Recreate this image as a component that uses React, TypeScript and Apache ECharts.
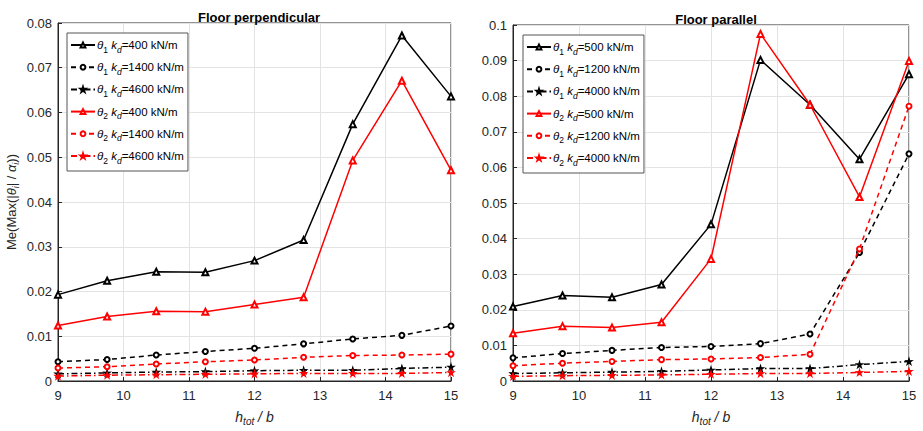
import React, { useEffect, useRef } from "react";
import * as echarts from "echarts";

const xValues = [9, 9.75, 10.5, 11.25, 12, 12.75, 13.5, 14.25, 15];

// Floor perpendicular
const perpNames = ["θ1 kd=400 kN/m", "θ1 kd=1400 kN/m", "θ1 kd=4600 kN/m", "θ2 kd=400 kN/m", "θ2 kd=1400 kN/m", "θ2 kd=4600 kN/m"];
const perpT1k400 = [0.0193, 0.0224, 0.0244, 0.0243, 0.0269, 0.0315, 0.0574, 0.0772, 0.0636];
const perpT1k1400 = [0.0043, 0.0048, 0.0058, 0.0066, 0.0073, 0.0083, 0.0094, 0.0102, 0.0123];
const perpT1k4600 = [0.0016, 0.0018, 0.002, 0.0021, 0.0023, 0.0024, 0.0024, 0.0028, 0.0031];
const perpT2k400 = [0.0124, 0.0144, 0.0156, 0.0155, 0.0171, 0.0187, 0.0493, 0.0671, 0.0471];
const perpT2k1400 = [0.0029, 0.0032, 0.0038, 0.0043, 0.0047, 0.0053, 0.0057, 0.0058, 0.006];
const perpT2k4600 = [0.0011, 0.0013, 0.0014, 0.0015, 0.0016, 0.0017, 0.0017, 0.0017, 0.0019];

// Floor parallel
const parNames = ["θ1 kd=500 kN/m", "θ1 kd=1200 kN/m", "θ1 kd=4000 kN/m", "θ2 kd=500 kN/m", "θ2 kd=1200 kN/m", "θ2 kd=4000 kN/m"];
const parT1k500 = [0.0209, 0.024, 0.0235, 0.0271, 0.044, 0.0902, 0.0776, 0.0623, 0.0862];
const parT1k1200 = [0.0065, 0.0077, 0.0086, 0.0094, 0.0097, 0.0105, 0.0132, 0.0361, 0.0638];
const parT1k4000 = [0.0021, 0.0023, 0.0025, 0.0027, 0.0031, 0.0035, 0.0035, 0.0046, 0.0055];
const parT2k500 = [0.0134, 0.0154, 0.015, 0.0165, 0.0343, 0.0975, 0.0776, 0.0517, 0.0899];
const parT2k1200 = [0.0043, 0.005, 0.0055, 0.006, 0.0062, 0.0066, 0.0075, 0.0371, 0.0772];
const parT2k4000 = [0.0013, 0.0015, 0.0016, 0.0017, 0.0019, 0.0021, 0.0021, 0.0024, 0.0027];

const titles = ["Floor perpendicular", "Floor parallel"];

const STAR = "path://M0,-1L0.22,-0.3L0.95,-0.31L0.36,0.12L0.59,0.81L0,0.38L-0.59,0.81L-0.36,0.12L-0.95,-0.31L-0.22,-0.3Z";
const FONT = "Liberation Sans, Arial, sans-serif";
const AXC = "#262626";

const styleFor = (idx: number) => {
  const color = idx < 3 ? "#000000" : "#ff0000";
  const k = idx % 3;
  if (k === 0) return { color, type: "solid" as any, symbol: "emptyTriangle", size: 6 };
  if (k === 1) return { color, type: [5, 4] as any, symbol: "emptyCircle", size: 5 };
  return { color, type: [6, 3, 1.5, 3] as any, symbol: STAR, size: 6 };
};

const mkSeries = (name: string, vals: number[], idx: number, axisIdx: number) => {
  const s = styleFor(idx);
  return {
    type: "line",
    name,
    xAxisIndex: axisIdx,
    yAxisIndex: axisIdx,
    data: xValues.map((x, i) => [x, vals[i]]),
    symbol: s.symbol,
    symbolSize: s.size,
    showAllSymbol: true,
    lineStyle: { color: s.color, width: 1.5, type: s.type },
    itemStyle: { color: s.color, borderColor: s.color, borderWidth: 1.2 },
    z: idx < 3 ? 3 : 4,
  };
};

const legendFormatter = (name: string) => {
  const m = name.match(/^θ(\d) kd(=.*)$/);
  if (!m) return name;
  return `{it|θ}{sub|${m[1]}} {it|k}{subi|d}{n|${m[2]}}`;
};

const legendRich = {
  it: { fontStyle: "italic", fontSize: 11.5, fontFamily: FONT, color: "#000" },
  n: { fontSize: 11.5, fontFamily: FONT, color: "#000" },
  sub: { fontSize: 8.5, fontFamily: FONT, color: "#000", padding: [9, 0, 0, 0] },
  subi: { fontSize: 8.5, fontStyle: "italic", fontFamily: FONT, color: "#000", padding: [9, 0, 0, 0] },
};

const makeAxes = (max: number) => ({
  y: {
    type: "value",
    min: 0,
    max,
    interval: 0.01,
    axisLine: { show: true, lineStyle: { color: AXC } },
    axisTick: { show: true, inside: true, length: 4, lineStyle: { color: AXC } },
    splitLine: { show: true, lineStyle: { color: "#e3e3e3" } },
    axisLabel: {
      color: AXC,
      fontSize: 13,
      fontFamily: FONT,
      margin: 6,
      formatter: (v: number) => (v === 0 ? "0" : String(+v.toFixed(2))),
    },
  },
  x: {
    type: "value",
    min: 9,
    max: 15,
    interval: 1,
    axisLine: { show: true, lineStyle: { color: AXC } },
    axisTick: { show: true, inside: true, length: 4, lineStyle: { color: AXC } },
    splitLine: { show: true, lineStyle: { color: "#e3e3e3" } },
    axisLabel: { color: AXC, fontSize: 13, fontFamily: FONT, margin: 8 },
    name: "{it|h}{sub|tot}{n| / b}",
    nameLocation: "middle",
    nameGap: 26,
    nameTextStyle: {
      rich: {
        it: { fontStyle: "italic", fontSize: 14, fontFamily: FONT, color: AXC },
        n: { fontStyle: "italic", fontSize: 14, fontFamily: FONT, color: AXC },
        sub: { fontStyle: "italic", fontSize: 10, fontFamily: FONT, color: AXC, padding: [9, 0, 0, 0] },
      },
    },
  },
});

export default function App() {
  const ref = useRef<HTMLDivElement>(null);
  useEffect(() => {
    if (!ref.current) return;
    const chart = echarts.init(ref.current, null, { renderer: "svg" });
    const a1 = makeAxes(0.08);
    const a2 = makeAxes(0.1);
    const leftVals = [perpT1k400, perpT1k1400, perpT1k4600, perpT2k400, perpT2k1400, perpT2k4600];
    const rightVals = [parT1k500, parT1k1200, parT1k4000, parT2k500, parT2k1200, parT2k4000];
    const legendCommon = {
      orient: "vertical",
      backgroundColor: "#ffffff",
      borderColor: "#555",
      borderWidth: 1,
      padding: [6, 4, 6, 3],
      itemGap: 7.2,
      itemWidth: 24,
      itemHeight: 6,
      formatter: legendFormatter,
      textStyle: { rich: legendRich, fontFamily: FONT, fontSize: 11.5, padding: [0, 0, 0, -3] },
    };
    chart.setOption({
      animation: false,
      backgroundColor: "#ffffff",
      title: [
        {
          text: titles[0],
          left: 254,
          top: 6,
          textAlign: "center",
          textStyle: { fontSize: 13, fontWeight: "bold", fontFamily: FONT, color: "#000" },
        },
        {
          text: titles[1],
          left: 711,
          top: 8,
          textAlign: "center",
          textStyle: { fontSize: 13, fontWeight: "bold", fontFamily: FONT, color: "#000" },
        },
      ],
      grid: [
        { left: 58, top: 23, width: 393, height: 365, show: true, borderColor: AXC, borderWidth: 1, backgroundColor: "transparent" },
        { left: 513, top: 25, width: 396, height: 365, show: true, borderColor: AXC, borderWidth: 1, backgroundColor: "transparent" },
      ],
      xAxis: [
        { ...a1.x, gridIndex: 0 },
        { ...a2.x, gridIndex: 1 },
      ],
      yAxis: [
        {
          ...a1.y,
          gridIndex: 0,
          name: "Me(Max(|{it|θ}{sub|i}| / {it|α}{sub|i}))",
          nameLocation: "middle",
          nameGap: 38,
          nameTextStyle: {
            color: AXC,
            fontSize: 13,
            fontFamily: FONT,
            rich: {
              it: { fontStyle: "italic", fontSize: 13, fontFamily: FONT, color: AXC },
              sub: { fontStyle: "italic", fontSize: 9, fontFamily: FONT, color: AXC, padding: [8, 0, 0, 0] },
            },
          },
        },
        { ...a2.y, gridIndex: 1 },
      ],
      legend: [
        { ...legendCommon, left: 67, top: 33, data: perpNames },
        { ...legendCommon, left: 523, top: 35, data: parNames },
      ],
      series: [
        ...perpNames.map((n, i) => mkSeries(n, leftVals[i], i, 0)),
        ...parNames.map((n, i) => mkSeries(n, rightVals[i], i, 1)),
      ],
    });
    return () => chart.dispose();
  }, []);
  return (
    <div
      ref={ref}
      style={{ position: "absolute", left: 0, top: 0, width: 923, height: 431 }}
    />
  );
}
